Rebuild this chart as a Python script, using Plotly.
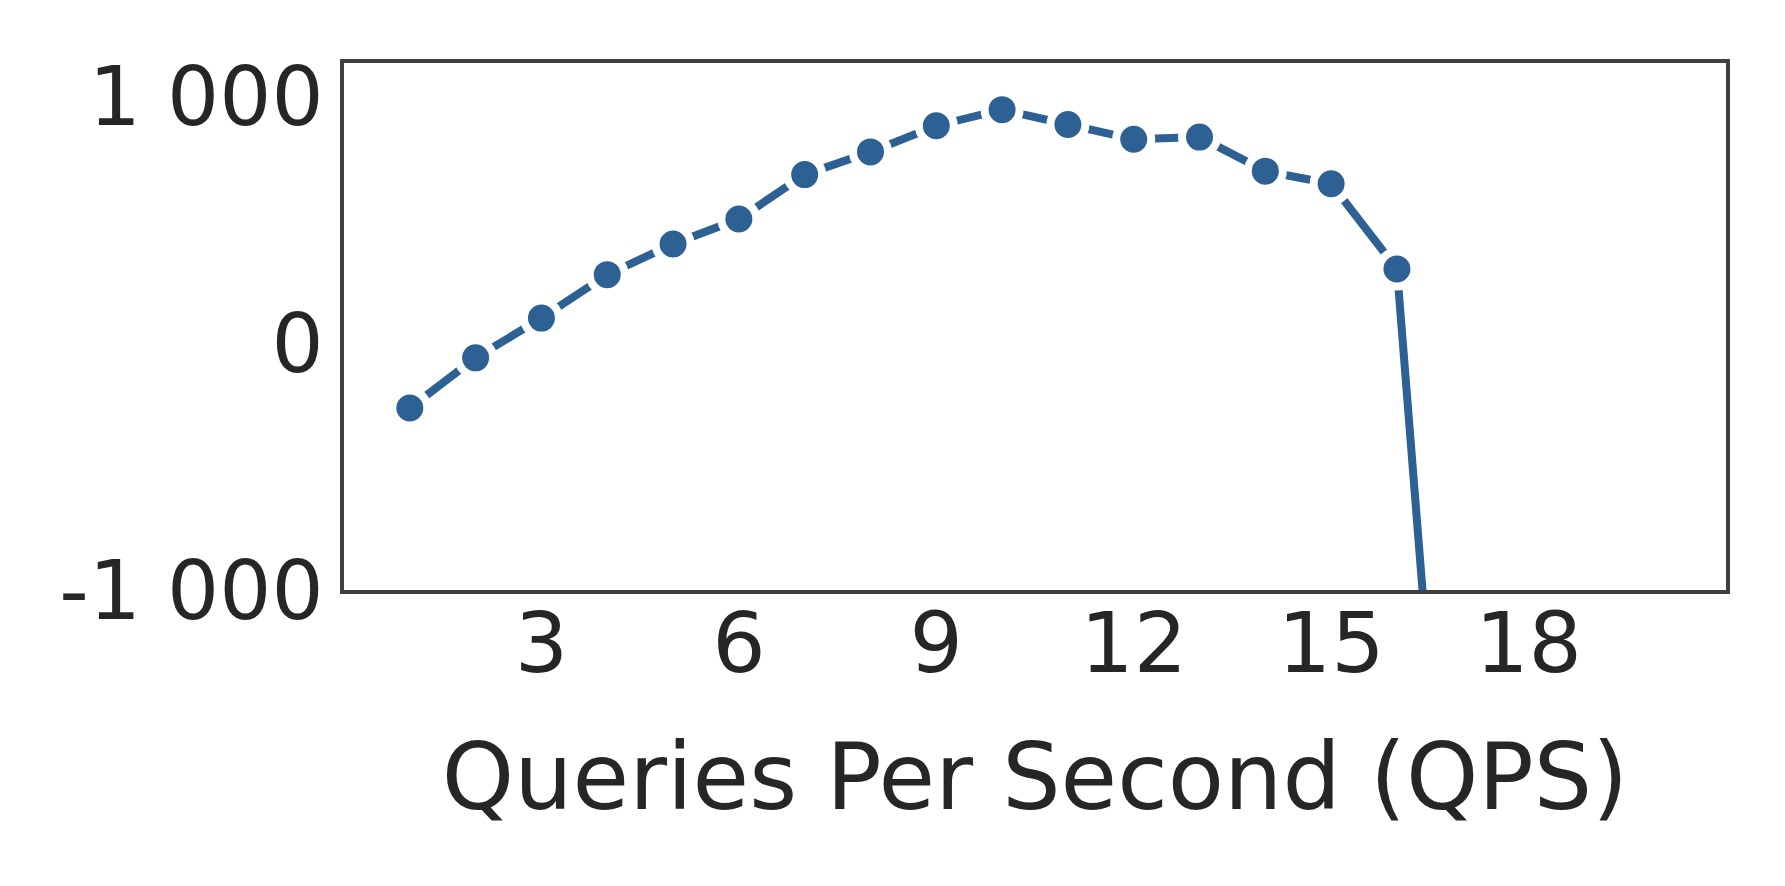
import plotly.graph_objects as go

qps = [1, 2, 3, 4, 5, 6, 7, 8, 9, 10, 11, 12, 13, 14, 15, 16, 17]
values = [-263, -60, 101, 277, 401, 502, 682, 774, 880, 945, 885, 825, 834, 696, 645, 300, -3050]

x_ticks = [3, 6, 9, 12, 15, 18]
y_ticks = [-1000, 0, 1000]
y_ticktext = ["-1 000", "0", "1 000"]

color = "#2d6093"
frame = "#404040"
font = "DejaVu Sans"

fig = go.Figure()
fig.add_trace(go.Scatter(
    x=qps, y=values, mode="lines+markers",
    line=dict(color=color, width=8),
    marker=dict(color=color, size=35, line=dict(color="white", width=8)),
    showlegend=False,
))

fig.update_layout(
    width=1785, height=886,
    margin=dict(l=336, r=67, t=55, b=304),
    paper_bgcolor="white", plot_bgcolor="white",
    font=dict(family=font, color="#262626"),
)
fig.update_xaxes(
    range=[0, 21], tickvals=x_ticks, showgrid=False, zeroline=False,
    showline=True, mirror=True, linecolor=frame, linewidth=4,
    ticks="", tickfont=dict(size=84, family=font, color="#262626"),
    ticklabelstandoff=-23,
    title=dict(text="Queries Per Second (QPS)", font=dict(size=92, family=font, color="#262626"), standoff=55),
)
fig.update_yaxes(
    range=[-1000, 1134], tickvals=y_ticks, ticktext=y_ticktext, showgrid=False, zeroline=False,
    showline=True, mirror=True, linecolor=frame, linewidth=4,
    ticks="", tickfont=dict(size=82, family=font, color="#262626"),
    ticklabelstandoff=0,
)

fig.write_html("out.html")
